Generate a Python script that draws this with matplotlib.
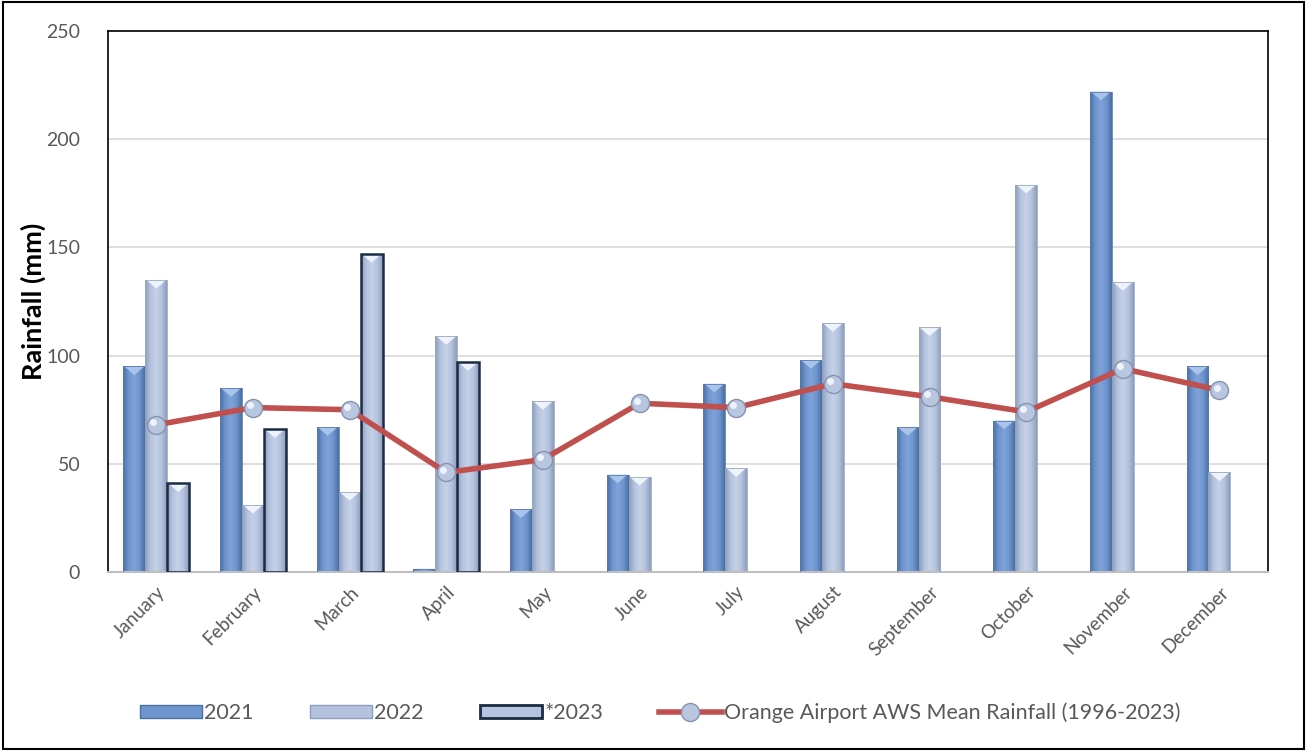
import numpy as np
import matplotlib
matplotlib.use("Agg")
import matplotlib.pyplot as plt
from matplotlib.patches import Patch, Rectangle, Polygon
from matplotlib.lines import Line2D
from matplotlib.colors import LinearSegmentedColormap

months = ["January", "February", "March", "April", "May", "June", "July",
          "August", "September", "October", "November", "December"]
rain_2021 = [95, 85, 67, 1.5, 29, 45, 87, 98, 67, 70, 222, 95]
rain_2022 = [135, 31, 37, 109, 79, 44, 48, 115, 113, 179, 134, 46]
rain_2023 = [41, 66, 147, 97, np.nan, np.nan, np.nan, np.nan, np.nan, np.nan, np.nan, np.nan]
mean_rain = [68, 76, 75, 46, 52, 78, 76, 87, 81, 74, 94, 84]

plt.rcParams['font.family'] = ['Lato', 'DejaVu Sans']
txt = '#595959'

fig = plt.figure(figsize=(13.07, 7.51), dpi=100)
ax = fig.add_axes([0.0826, 0.2383, 0.8874, 0.7204])

x = np.arange(len(months))
w = 0.227

cm21 = LinearSegmentedColormap.from_list('c21', ['#4A6FA5', '#6F95CF', '#7FA3D8', '#6F95CF', '#4A6FA5'])
cm22 = LinearSegmentedColormap.from_list('c22', ['#8E9DBB', '#B5C3DE', '#C5D1E8', '#B5C3DE', '#8E9DBB'])
grad = np.linspace(0, 1, 64).reshape(1, -1)

def draw(vals, offset, cmap, edge, lw, tri_col):
    bars = ax.bar(x + offset, vals, w, color='none', edgecolor=edge, linewidth=lw, zorder=3)
    for b in bars:
        h = b.get_height()
        if not np.isfinite(h) or h <= 0:
            continue
        x0, x1 = b.get_x(), b.get_x() + b.get_width()
        im = ax.imshow(grad, extent=(x0, x1, 0, h), aspect='auto', cmap=cmap, zorder=2,
                       interpolation='bilinear')
        im.set_clip_path(b)
        d = min(4.0, h * 0.5)
        ax.add_patch(Polygon([(x0 + 0.01, h), (x1 - 0.01, h), ((x0 + x1) / 2, h - d)],
                             closed=True, facecolor=tri_col, edgecolor='none', zorder=2.5))
    return bars

draw(rain_2021, -w, cm21, '#5A7BAE', 0.6, '#A9C4EA')
draw(rain_2022, 0, cm22, '#9AA8C4', 0.6, '#EEF2FA')
draw(rain_2023, w, cm22, '#1B2B45', 1.8, '#EEF2FA')

ax.plot(x, mean_rain, color='#C0504D', lw=4, zorder=4, solid_capstyle='round')
ax.plot(x, mean_rain, linestyle='none', marker='o', markersize=13,
        markerfacecolor='#B9C6DF', markeredgecolor='#8593B0', markeredgewidth=1, zorder=5)
ax.plot(np.array(x) - 0.03, np.array(mean_rain) + 1.2, linestyle='none', marker='o', markersize=5,
        markerfacecolor='#EEF2FA', markeredgecolor='none', zorder=6)

ax.set_xlim(-0.5, 11.5)
ax.set_ylim(0, 250)
ax.set_yticks([0, 50, 100, 150, 200, 250])
ax.yaxis.grid(True, color='#D9D9D9', lw=1.2)
ax.set_axisbelow(True)
ax.set_xticks(x)
ax.set_xticklabels(months, rotation=45, ha='right', va='top', rotation_mode='anchor',
                   fontsize=13.5, color=txt)
ax.tick_params(axis='x', length=0, pad=8)
ax.tick_params(axis='y', length=0, pad=20, labelsize=14, labelcolor=txt)
for s in ['left', 'top', 'right']:
    ax.spines[s].set_color('black')
    ax.spines[s].set_linewidth(1.2)
ax.spines['bottom'].set_color('#BFBFBF')
ax.spines['bottom'].set_linewidth(1.5)
ax.set_ylabel('Rainfall (mm)', fontsize=19.5, fontweight='bold', color='black', labelpad=0)

handles = [
    Patch(facecolor='#6F95CF', edgecolor='#4A6FA5'),
    Patch(facecolor='#B5C3DE', edgecolor='#8E9DBB'),
    Patch(facecolor='#B5C3DE', edgecolor='#1B2B45', linewidth=2),
    Line2D([0], [0], color='#C0504D', lw=4, marker='o', markersize=13,
           markerfacecolor='#B9C6DF', markeredgecolor='#8593B0'),
]
labels = ['2021', '2022', '*2023', 'Orange Airport AWS Mean Rainfall (1996-2023)']
leg = fig.legend(handles, labels, loc='center', bbox_to_anchor=(0.505, 0.051), ncol=4,
                 frameon=False, fontsize=15.5, handlelength=2.9, handleheight=0.55,
                 handletextpad=0.1, columnspacing=2.6, labelcolor=txt)

fig.add_artist(Rectangle((0.002, 0.003), 0.996, 0.994, transform=fig.transFigure,
                         fill=False, edgecolor='black', lw=1.5))

fig.savefig('out.png', dpi=100, facecolor='white')
